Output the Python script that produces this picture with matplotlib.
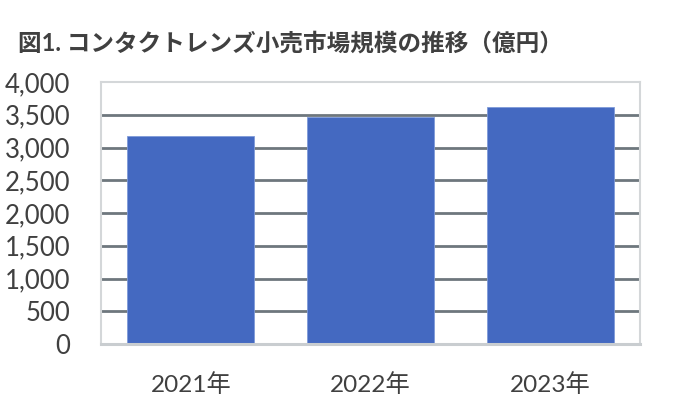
import matplotlib
matplotlib.use("Agg")
import matplotlib.pyplot as plt

plt.rcParams['font.family'] = ['Lato', 'Noto Sans CJK JP', 'DejaVu Sans']

# データ（億円）
years = ["2021年", "2022年", "2023年"]
values = [3170, 3470, 3620]
yticks = [0, 500, 1000, 1500, 2000, 2500, 3000, 3500, 4000]

fig = plt.figure(figsize=(7, 4.08), dpi=100)
ax = fig.add_axes([101/700, 1 - 344/408, 539/700, 262/408])

x = range(len(years))
ax.bar(x, values, width=0.707, color='#4469C1', edgecolor='#7f9ad8', linewidth=0.6, zorder=3)

ax.set_xlim(-0.5, len(years) - 0.5)
ax.set_ylim(0, 4000)
ax.set_yticks(yticks)
ax.set_yticklabels([f"{v:,}" for v in yticks])
ax.set_xticks(list(x))
ax.set_xticklabels(years)

for v in yticks[1:-1]:
    ax.axhline(v, color='#6e777d', lw=2.0, zorder=1)

for s in ['top', 'left', 'right']:
    ax.spines[s].set_color('#d4d7d9')
    ax.spines[s].set_linewidth(1.5)
ax.spines['bottom'].set_color('#c9cdd0')
ax.spines['bottom'].set_linewidth(2.2)
ax.spines['bottom'].set_zorder(4)

ax.tick_params(axis='both', length=0, colors='#404040')
ax.tick_params(axis='y', labelsize=18.5, pad=22)
ax.tick_params(axis='x', labelsize=17.5, pad=21)

fig.text(18/700, 1 - 43/408, "図1. コンタクトレンズ小売市場規模の推移（億円）",
         fontsize=17, fontweight='bold', color='#404040', va='center', ha='left')

fig.savefig("out.png", dpi=100)
